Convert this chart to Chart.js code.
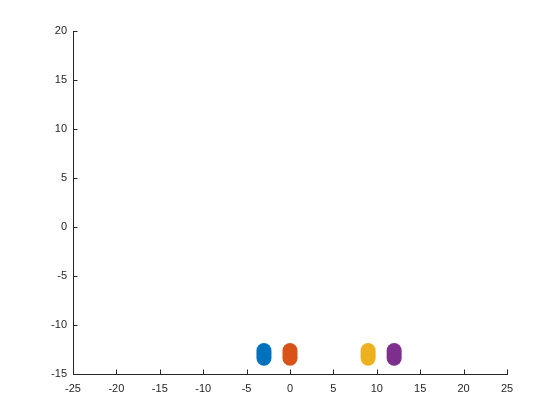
<!DOCTYPE html>
<html><head><meta charset="utf-8">
<script src="https://cdn.jsdelivr.net/npm/chart.js@4/dist/chart.umd.min.js"></script>
<style>html,body{margin:0;padding:0;background:#fff}#wrap{width:560px;height:420px}</style>
</head><body><div id="wrap"><canvas id="c" width="560" height="420"></canvas></div>
<script>
const seriesNames = ['A','B','C','D'];
const seriesX = [-3, 0, 9, 12];
const seriesYLow = [-13.4, -13.4, -13.4, -13.4];
const seriesYHigh = [-12.6, -12.6, -12.6, -12.6];
const seriesColors = ['#0072BD', '#D95319', '#EDB120', '#7E2F8E'];
const xTicks = [-25,-20,-15,-10,-5,0,5,10,15,20,25];
const yTicks = [-15,-10,-5,0,5,10,15,20];

const axisColor = '#262626';
const font = {family: '"Liberation Sans", Arial, Helvetica, sans-serif', size: 11};

const datasets = seriesNames.map((n,i)=>({
  label: n,
  type: 'line',
  data: [{x: seriesX[i], y: seriesYLow[i]}, {x: seriesX[i], y: seriesYHigh[i]}],
  borderColor: seriesColors[i],
  backgroundColor: seriesColors[i],
  borderWidth: 15,
  borderCapStyle: 'round',
  pointRadius: 0,
  fill: false
}));

const innerTicks = {
  id: 'innerTicks',
  afterDraw(chart) {
    const ctx = chart.ctx, ca = chart.chartArea;
    const xs = chart.scales.x, ys = chart.scales.y;
    ctx.save();
    ctx.strokeStyle = axisColor; ctx.lineWidth = 1;
    ctx.beginPath();
    xTicks.forEach(v => { const p = Math.round(xs.getPixelForValue(v)) + 0.5; ctx.moveTo(p, ca.bottom); ctx.lineTo(p, ca.bottom - 4.5); });
    yTicks.forEach(v => { const p = Math.round(ys.getPixelForValue(v)) + 0.5; ctx.moveTo(ca.left, p); ctx.lineTo(ca.left + 4.5, p); });
    ctx.stroke();
    ctx.restore();
  }
};

new Chart(document.getElementById('c'), {
  type: 'scatter',
  data: {datasets},
  options: {
    responsive: false, animation: false,
    layout: {padding: {left: 0, right: 53, top: 31, bottom: 0}},
    plugins: {legend: {display: false}, tooltip: {enabled: false}},
    scales: {
      x: {
        type: 'linear', min: -25, max: 25,
        afterBuildTicks: s => { s.ticks = xTicks.map(v => ({value: v})); },
        afterFit: s => { s.height = 46; },
        grid: {display: false, drawTicks: false},
        border: {display: true, color: axisColor, width: 1},
        ticks: {color: axisColor, font, padding: 8, maxRotation: 0, autoSkip: false}
      },
      y: {
        type: 'linear', min: -15, max: 20,
        afterBuildTicks: s => { s.ticks = yTicks.map(v => ({value: v})); },
        afterFit: s => { s.width = 73; },
        grid: {display: false, drawTicks: false},
        border: {display: true, color: axisColor, width: 1},
        ticks: {color: axisColor, font, padding: 6, autoSkip: false}
      }
    }
  },
  plugins: [innerTicks]
});
</script></body></html>
